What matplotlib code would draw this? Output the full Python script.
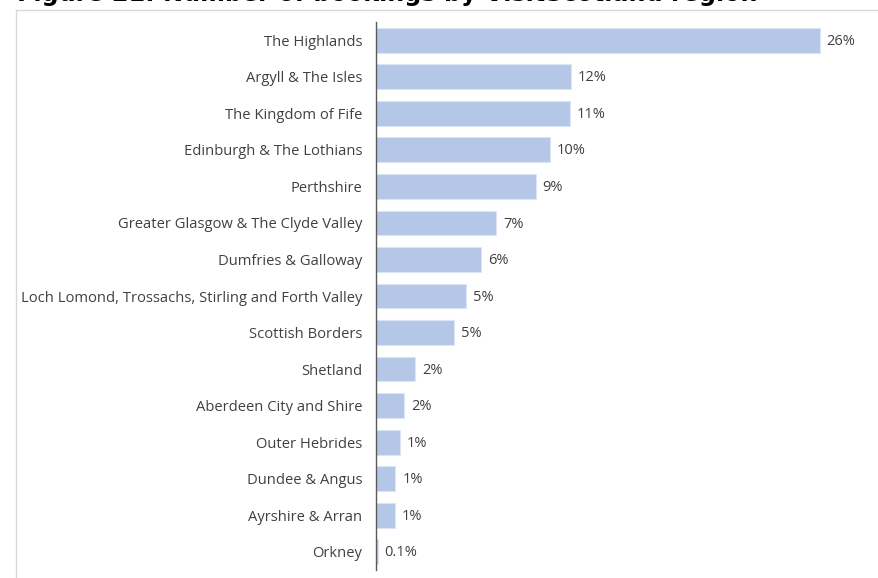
import matplotlib
matplotlib.use("Agg")
import matplotlib.pyplot as plt
from matplotlib.patches import Rectangle

# Share of bookings by VisitScotland region (%)
regions = [
    "The Highlands",
    "Argyll & The Isles",
    "The Kingdom of Fife",
    "Edinburgh & The Lothians",
    "Perthshire",
    "Greater Glasgow & The Clyde Valley",
    "Dumfries & Galloway",
    "Loch Lomond, Trossachs, Stirling and Forth Valley",
    "Scottish Borders",
    "Shetland",
    "Aberdeen City and Shire",
    "Outer Hebrides",
    "Dundee & Angus",
    "Ayrshire & Arran",
    "Orkney",
]
shares = [26.25, 11.55, 11.45, 10.3, 9.45, 7.1, 6.2, 5.35, 4.6,
          2.3, 1.65, 1.4, 1.15, 1.1, 0.1]

title = "Figure 21: Number of bookings by VisitScotland region"

W, H = 879, 578
fig = plt.figure(figsize=(W / 100, H / 100), dpi=100)
fig.patch.set_facecolor("white")

FONT = ["Open Sans", "DejaVu Sans"]
TEXT_COLOR = "#404040"
BAR_COLOR = "#B4C7E7"

# chart frame
frame = Rectangle((16 / W, -0.05), 1.0, 1 - 9.5 / H + 0.05,
                  transform=fig.transFigure, fill=False,
                  edgecolor="#D9D9D9", linewidth=1.0, zorder=0)
fig.patches.append(frame)

# heading above the chart frame
fig.text(17 / W, 1 - 1.5 / H, title, transform=fig.transFigure,
         ha="left", va="baseline", fontsize=17.2, fontweight="bold",
         family=["DejaVu Sans"], color="#000000")

ax_left, ax_right = 376 / W, 870 / W
ax_top, ax_bottom = 1 - 22 / H, 1 - 570 / H
ax = fig.add_axes([ax_left, ax_bottom, ax_right - ax_left, ax_top - ax_bottom])

ypos = list(range(len(regions)))
ax.barh(ypos, shares, height=0.68, color=BAR_COLOR,
        edgecolor="#DCE5F4", linewidth=0.8)

ax.set_ylim(len(regions) - 0.5, -0.5)
ax_width_px = (ax_right - ax_left) * W
ax.set_xlim(0, ax_width_px / 16.9)

for y, v in zip(ypos, shares):
    label = f"{v:.1f}%" if v < 0.5 else f"{v:.0f}%"
    ax.annotate(label, xy=(v, y + 0.03), xytext=(5, 0), textcoords="offset points",
                ha="left", va="center", fontsize=10.5, family=FONT,
                color=TEXT_COLOR)

ax.set_yticks(ypos)
ax.set_yticklabels(regions, fontsize=10.6, family=FONT, color=TEXT_COLOR)
ax.tick_params(axis="y", length=0, pad=10)
ax.set_xticks([])

for side in ("top", "right", "bottom"):
    ax.spines[side].set_visible(False)
ax.spines["left"].set_color("#595959")
ax.spines["left"].set_linewidth(1.0)
ax.set_facecolor("none")

fig.savefig("out.png", dpi=100, facecolor="white")
